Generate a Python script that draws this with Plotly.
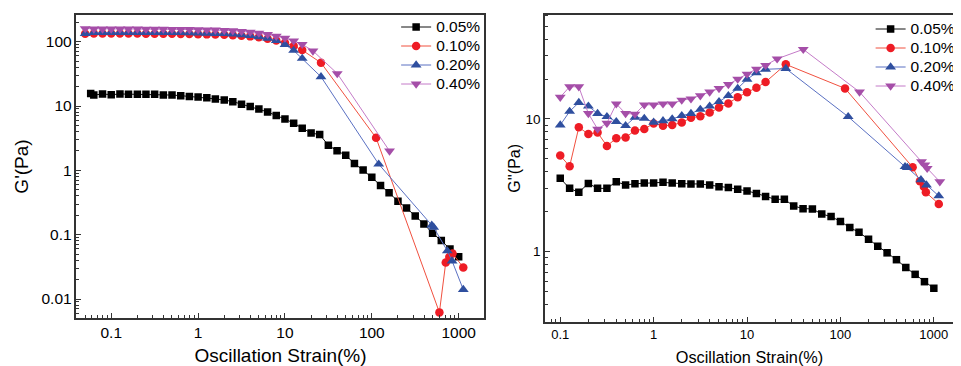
import plotly.graph_objects as go

# ---------------- data ----------------
series_names = ["0.05%", "0.10%", "0.20%", "0.40%"]

# Left panel: G' (Pa) vs oscillation strain (%)
gp_x_005 = [0.058, 0.063, 0.0794, 0.1, 0.126, 0.158, 0.2, 0.251, 0.316, 0.398, 0.501, 0.631, 0.794,
            1, 1.26, 1.58, 2, 2.51, 3.16, 3.98, 5.01, 6.31, 7.94, 10, 12.6, 15.8, 20, 25.1, 31.6,
            39.8, 50.1, 63.1, 79.4, 100, 126, 158, 200, 251, 316, 398, 501, 631, 794, 1000]
gp_y_005 = [15.7, 14.8, 15.4, 15.0, 15.4, 15.3, 15.2, 15.2, 15.2, 14.8, 14.8, 14.5, 14.1, 13.8,
            13.5, 12.9, 12.4, 11.7, 10.7, 9.8, 9.0, 8.1, 7.1, 6.3, 5.4, 4.5, 3.8, 3.6, 2.45,
            2.02, 1.71, 1.28, 1.01, 0.78, 0.58, 0.45, 0.33, 0.26, 0.195, 0.147, 0.105, 0.081,
            0.060, 0.0455]

gp_x_010 = [0.0501, 0.0631, 0.0794, 0.1, 0.126, 0.158, 0.2, 0.251, 0.316, 0.398, 0.501, 0.631,
            0.794, 1, 1.26, 1.58, 2, 2.51, 3.16, 3.98, 5.01, 6.31, 7.94, 10, 12.6, 15.8, 26,
            112, 600, 710, 780, 850, 1130]
gp_y_010 = [133, 134, 134, 134, 134, 134, 134, 133, 133, 133, 133, 132, 132, 131, 130, 129, 128,
            126, 124, 121, 117, 111, 104, 96, 86, 74, 47, 3.2, 0.0062, 0.037, 0.045, 0.051, 0.031]

gp_x_020 = [0.0501, 0.0631, 0.0794, 0.1, 0.126, 0.158, 0.2, 0.251, 0.316, 0.398, 0.501, 0.631,
            0.794, 1, 1.26, 1.58, 2, 2.51, 3.16, 3.98, 5.01, 6.31, 7.94, 10, 12.6, 15.8, 26,
            120, 490, 515, 740, 840, 1130]
gp_y_020 = [134, 138, 139, 139, 139, 139, 139, 139, 139, 139, 138, 138, 137, 136, 135, 134, 133,
            131, 128, 124, 119, 113, 104, 90, 73, 55, 28.5, 1.25, 0.14, 0.13, 0.056, 0.039, 0.014]

gp_x_040 = [0.0501, 0.0631, 0.0794, 0.1, 0.126, 0.158, 0.2, 0.251, 0.316, 0.398, 0.501, 0.631,
            0.794, 1, 1.26, 1.58, 2, 2.51, 3.16, 3.98, 5.01, 6.31, 7.94, 10, 12.6, 15.8, 21,
            40, 160]
gp_y_040 = [160, 158, 158, 158, 158, 158, 158, 157, 157, 157, 156, 156, 155, 154, 153, 152, 150,
            148, 145, 141, 136, 130, 122, 114, 103, 91, 72, 32, 2.0]

# Right panel: G'' (Pa) vs oscillation strain (%)
gpp_x_005 = [0.1, 0.126, 0.158, 0.2, 0.251, 0.316, 0.398, 0.501, 0.631, 0.794, 1, 1.26, 1.58, 2,
             2.51, 3.16, 3.98, 5.01, 6.31, 7.94, 10, 12.6, 15.8, 20, 25.1, 31.6, 39.8, 50.1,
             63.1, 79.4, 100, 126, 158, 200, 251, 316, 398, 501, 631, 794, 1000]
gpp_y_005 = [3.57, 3.0, 2.8, 3.27, 3.0, 3.0, 3.37, 3.18, 3.25, 3.29, 3.29, 3.33, 3.29, 3.25,
             3.24, 3.24, 3.18, 3.09, 3.04, 2.95, 2.87, 2.75, 2.60, 2.48, 2.48, 2.21, 2.11, 2.10,
             1.92, 1.84, 1.69, 1.52, 1.40, 1.24, 1.10, 0.98, 0.87, 0.76, 0.675, 0.594, 0.53]

gpp_x_010 = [0.1, 0.126, 0.158, 0.2, 0.251, 0.316, 0.398, 0.501, 0.631, 0.794, 1, 1.26, 1.58, 2,
             2.51, 3.16, 3.98, 5.01, 6.31, 7.94, 10, 12.6, 15.8, 26, 112, 593, 710, 783, 822, 1130]
gpp_y_010 = [5.3, 4.4, 8.65, 7.7, 7.9, 6.26, 7.15, 7.25, 8.2, 8.41, 9.25, 8.9, 9.0, 9.4, 10.2,
             10.5, 11.2, 12.2, 13.1, 14.6, 15.9, 17.2, 19.0, 25.8, 17.0, 4.33, 3.4, 3.09, 2.8, 2.29]

gpp_x_020 = [0.1, 0.126, 0.158, 0.2, 0.251, 0.316, 0.398, 0.501, 0.631, 0.794, 1, 1.26, 1.58, 2,
             2.51, 3.16, 3.98, 5.01, 6.31, 7.94, 10, 12.6, 15.8, 26, 121, 492, 520, 728, 834, 1130]
gpp_y_020 = [9.0, 11.4, 13.3, 12.5, 11.0, 10.4, 9.55, 8.9, 10.3, 10.1, 9.44, 9.7, 10.0, 10.6,
             11.0, 11.8, 12.5, 13.5, 15.0, 17.0, 19.9, 22.3, 23.7, 24.0, 10.4, 4.37, 4.3, 3.48,
             3.18, 2.63]

gpp_x_040 = [0.1, 0.126, 0.158, 0.2, 0.251, 0.316, 0.398, 0.501, 0.631, 0.794, 1, 1.26, 1.58, 2,
             2.51, 3.16, 3.98, 5.01, 6.31, 7.94, 10, 12.6, 15.8, 21, 40, 160, 738, 802, 849, 1159]
gpp_y_040 = [14.6, 17.5, 17.5, 11.0, 8.4, 9.3, 13.0, 11.0, 10.9, 12.8, 12.8, 13.0, 13.0, 13.9,
             14.2, 15.0, 16.0, 17.0, 18.2, 20.0, 21.8, 23.8, 25.4, 28.4, 33.5, 16.0, 4.77, 4.5,
             4.25, 3.37]

x_tick_vals = [0.1, 1, 10, 100, 1000]
x_tick_text = ["0.1", "1", "10", "100", "1000"]
gp_tick_vals = [0.01, 0.1, 1, 10, 100]
gp_tick_text = ["0.01", "0.1", "1", "10", "100"]
gpp_tick_vals = [1, 10]
gpp_tick_text = ["1", "10"]

# ---------------- styling ----------------
FONT = "Liberation Sans, Arial, Helvetica, sans-serif"
marker_colors = ["#000000", "#ee1c25", "#2f4f9f", "#a54ea8"]
line_colors = ["#111111", "#f0503f", "#5a70c2", "#c47bc8"]
symbols = ["square", "circle", "triangle-up", "triangle-down"]
sizes = [7.5, 8.5, 9.5, 9.5]
AX = "#333333"

# the page body has an 8px margin, so the figure is 8px smaller than the window
W, H = 953, 358
OFF = 8


def px_x(p):
    return (p - OFF) / W


def px_y(p):
    return 1 - (p - OFF) / H


def minor_vals(lo_exp, hi_exp):
    vals = []
    for e in range(lo_exp, hi_exp + 1):
        for m in range(2, 10):
            vals.append(m * 10.0 ** e)
    return vals


fig = go.Figure()

left_data = [(gp_x_005, gp_y_005), (gp_x_010, gp_y_010), (gp_x_020, gp_y_020), (gp_x_040, gp_y_040)]
right_data = [(gpp_x_005, gpp_y_005), (gpp_x_010, gpp_y_010), (gpp_x_020, gpp_y_020), (gpp_x_040, gpp_y_040)]

for i, (xs, ys) in enumerate(left_data):
    fig.add_trace(go.Scatter(
        x=xs, y=ys, mode="lines+markers",
        name="<span style='font-size:15.5px'>%s</span>" % series_names[i],
        line=dict(color=line_colors[i], width=1),
        marker=dict(symbol=symbols[i], size=sizes[i], color=marker_colors[i]),
        xaxis="x", yaxis="y", legend="legend"))

for i, (xs, ys) in enumerate(right_data):
    fig.add_trace(go.Scatter(
        x=xs, y=ys, mode="lines+markers",
        name="<span style='font-size:15.5px'>%s</span>" % series_names[i],
        line=dict(color=line_colors[i], width=1),
        marker=dict(symbol=symbols[i], size=sizes[i], color=marker_colors[i]),
        xaxis="x2", yaxis="y2", legend="legend2"))


def axis(domain, rng, tickvals, ticktext, minor, tick_size, title, title_size, mirror=True, anchor=None, standoff=None):
    d = dict(
        type="log", domain=domain, range=rng, anchor=anchor,
        tickmode="array", tickvals=tickvals, ticktext=ticktext,
        ticks="inside", ticklen=5, tickwidth=1, tickcolor=AX,
        showline=True, linecolor=AX, linewidth=1.5, mirror=mirror,
        showgrid=False, zeroline=False, automargin=False,
        tickfont=dict(family=FONT, size=tick_size, color="#000000"),
        minor=dict(tickmode="array", tickvals=minor, ticks="inside", ticklen=3,
                   tickwidth=1, tickcolor=AX, showgrid=False),
        title=dict(text=title, font=dict(family=FONT, size=title_size, color="#000000")),
    )
    if standoff is not None:
        d["title"]["standoff"] = standoff
    return d


fig.update_layout(
    width=W, height=H,
    margin=dict(l=0, r=0, t=0, b=0),
    paper_bgcolor="white", plot_bgcolor="white",
    showlegend=True,
    xaxis=axis([px_x(77), px_x(488)], [-1.4, 3.297], x_tick_vals, x_tick_text,
               minor_vals(-2, 2), 15.5, "Oscillation Strain(%)", 19, anchor="y", standoff=13),
    yaxis=axis([px_y(318), px_y(15)], [-2.295, 2.415], gp_tick_vals, gp_tick_text,
               minor_vals(-3, 2), 15.5, "G'(Pa)", 19, anchor="x", standoff=8),
    xaxis2=axis([px_x(549), 1.0], [-1.163, 3.216], x_tick_vals, x_tick_text,
                minor_vals(-2, 2), 13, "Oscillation Strain(%)", 16.3, anchor="y2", standoff=12),
    yaxis2=axis([px_y(322), px_y(14.7)], [-0.53, 1.786], gpp_tick_vals, gpp_tick_text,
                minor_vals(-1, 1), 13.5, "G''(Pa)", 16, mirror=False, anchor="x2", standoff=1),
    legend=dict(x=px_x(399), y=px_y(12.5), xanchor="left", yanchor="top",
                bgcolor="rgba(0,0,0,0)", borderwidth=0, tracegroupgap=0,
                font=dict(family=FONT, size=12, color="#000000")),
    legend2=dict(x=px_x(877), y=px_y(14.5), xanchor="left", yanchor="top",
                 bgcolor="rgba(0,0,0,0)", borderwidth=0, tracegroupgap=0,
                 font=dict(family=FONT, size=12, color="#000000")),
)

fig.write_html("out.html")
